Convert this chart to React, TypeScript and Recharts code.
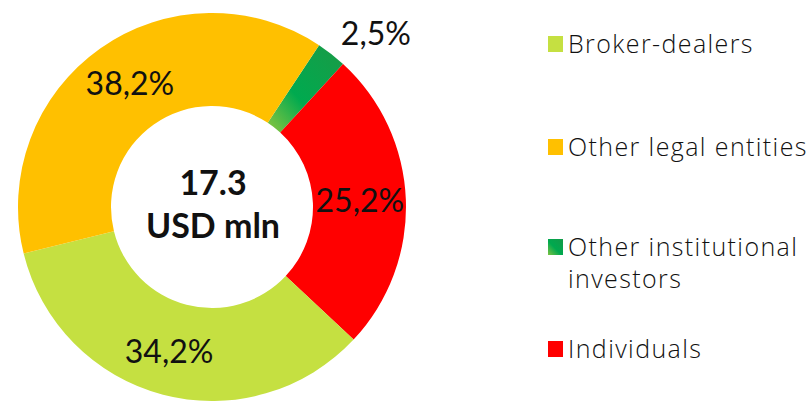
import { PieChart, Pie, Cell, Legend } from 'recharts';

const categories = [
  'Other institutional investors',
  'Individuals',
  'Broker-dealers',
  'Other legal entities',
];
const shares = [2.5, 25.2, 34.2, 38.2];
const shareLabels = ['2,5%', '25,2%', '34,2%', '38,2%'];
const colors = ['url(#instGrad)', '#ff0000', '#c5e041', '#ffc000'];
const legendOrder = [2, 3, 0, 1];
const legendNames = ['Broker-dealers', 'Other legal entities', 'Other institutional\ninvestors', 'Individuals'];

const FONT = 'Lato, "Open Sans", sans-serif';
const LEGEND_FONT = '"Open Sans", Lato, sans-serif';

const data = categories.map((name, i) => ({
  name,
  value: shares[i],
  label: shareLabels[i],
  fill: colors[i],
}));

// label radius and angle nudge per slice (the small one sits outside the ring)
const labelRadius = [239, 148, 151, 148];
const labelTurn = [-5.3, 0.5, -1.9, -1.5];
const RAD = Math.PI / 180;
const LABEL_SIZE = 32;

function renderLabel(props: any) {
  const { cx, cy, midAngle, index } = props;
  const r = labelRadius[index];
  const a = (midAngle + labelTurn[index]) * RAD;
  const x = cx + r * Math.cos(a);
  const y = cy - r * Math.sin(a);
  return (
    <text
      x={x}
      y={y + LABEL_SIZE * 0.36}
      fill="#111"
      fontSize={LABEL_SIZE}
      fontFamily={FONT}
      textAnchor="middle"
    >
      {data[index].label}
    </text>
  );
}

function renderLegend() {
  const rows = [44, 147, 247, 349];
  return (
    <svg width={264} height={401} style={{ display: 'block' }}>
      <defs>
        <linearGradient id="instGradL" x1="0" y1="1" x2="1" y2="0">
          <stop offset="0%" stopColor="#7cc242" />
          <stop offset="45%" stopColor="#00a94f" />
          <stop offset="100%" stopColor="#139a48" />
        </linearGradient>
      </defs>
      {legendOrder.map((idx, i) => {
        const lines = legendNames[i].split('\n');
        return (
          <g key={idx}>
            <rect x={0} y={rows[i] - 8} width={15} height={16} fill={idx === 0 ? 'url(#instGradL)' : colors[idx]} />
            {lines.map((ln, j) => (
              <text
                key={j}
                x={20}
                y={rows[i] + j * 32 + 9}
                fontSize={25}
                fontFamily={LEGEND_FONT}
                fontWeight={300}
                letterSpacing={1.4}
                fill="#111"
              >
                {ln}
              </text>
            ))}
          </g>
        );
      })}
    </svg>
  );
}

export default function App() {
  return (
    <div style={{ position: 'absolute', left: 0, top: 0, width: 812, height: 401, background: '#fff' }}>
      <PieChart width={812} height={401} margin={{ top: 0, right: 0, bottom: 0, left: 0 }}>
        <defs>
          <linearGradient id="instGrad" x1="0" y1="1" x2="1" y2="0">
            <stop offset="0%" stopColor="#8dc63f" />
            <stop offset="40%" stopColor="#00aa4f" />
            <stop offset="100%" stopColor="#1a9a46" />
          </linearGradient>
        </defs>
        <Pie
          data={data}
          dataKey="value"
          nameKey="name"
          cx={212}
          cy={207}
          innerRadius={101}
          outerRadius={194}
          startAngle={56.5}
          endAngle={-303.5}
          stroke="none"
          label={renderLabel}
          labelLine={false}
          isAnimationActive={false}
        >
          {data.map((d, i) => (
            <Cell key={i} fill={d.fill} />
          ))}
        </Pie>
        <text x={213} y={195} textAnchor="middle" fontSize={34} fontWeight={700} fontFamily={FONT} fill="#111">
          17.3
        </text>
        <text x={213} y={238} textAnchor="middle" fontSize={34} fontWeight={700} fontFamily={FONT} fill="#111">
          USD mln
        </text>
        <Legend
          content={renderLegend}
          wrapperStyle={{ position: 'absolute', left: 548, top: 0, width: 264, height: 401, bottom: 'auto' }}
        />
      </PieChart>
    </div>
  );
}
